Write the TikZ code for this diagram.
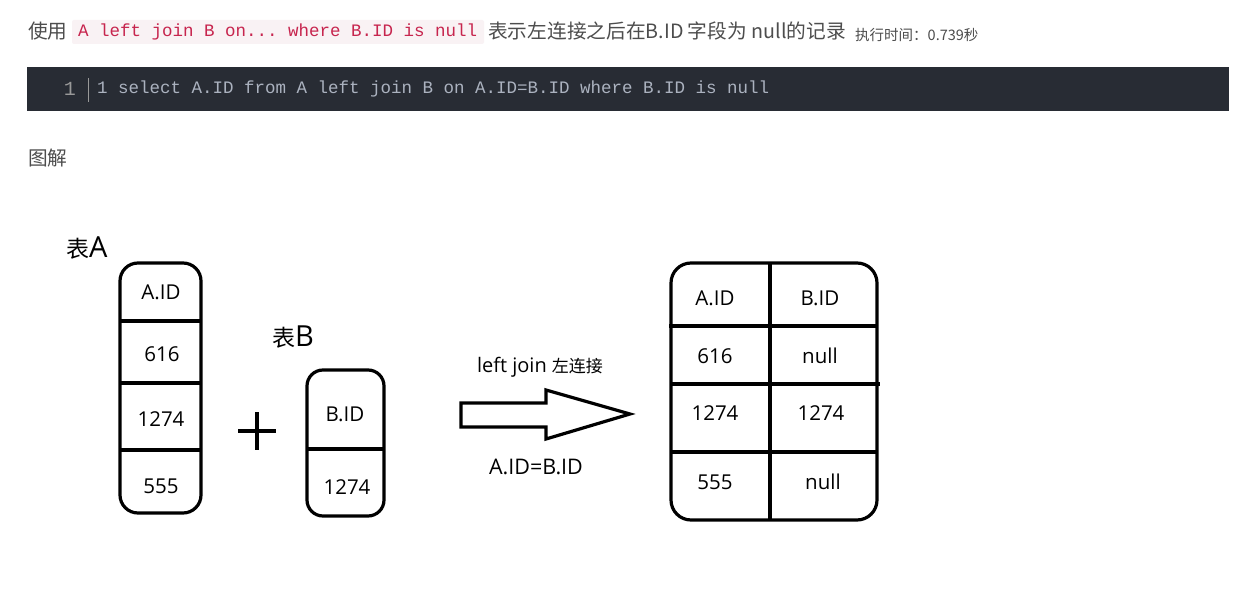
\documentclass[tikz,border=0pt]{standalone}
\usepackage{fontspec}
\setmainfont{Noto Sans CJK SC}
\newfontfamily\cjk{Noto Sans CJK SC}
\newfontfamily\hand{Open Sans}
\setmonofont{Liberation Mono}
\definecolor{hdr}{HTML}{4D4D4D}
\definecolor{codebg}{HTML}{F9F2F4}
\definecolor{codefg}{HTML}{C7254E}
\definecolor{blockbg}{HTML}{282C34}
\definecolor{blockfg}{HTML}{ABB2BF}
\definecolor{lnum}{HTML}{999999}
\begin{document}
\begin{tikzpicture}[x=1pt,y=-1pt,
  hdrtext/.style={inner sep=0pt,anchor=west,text=hdr,font=\cjk\fontsize{19.7}{22}\selectfont},
  tbl/.style={line width=3.2pt,draw=black},
  cell/.style={inner sep=0pt,font=\hand\fontsize{20.5}{23}\selectfont},
  title/.style={inner sep=0pt,anchor=west,font=\hand\fontsize{29}{32}\selectfont}]
\useasboundingbox (0,0) rectangle (1246,593);
\fill[white] (0,0) rectangle (1246,593);
% header line
\node[hdrtext] (use) at (28,31) {使用};
\fill[codebg, rounded corners=2pt] (72,20) rectangle (484,44);
\node[inner sep=0pt,anchor=west,text=codefg,font=\ttfamily\fontsize{17.5}{20}\selectfont] (inl) at (78,32) {A left join B on... where B.ID is null};
\node[hdrtext] (desc) at (488,31) {表示左连接之后在B.ID 字段为 null的记录};
\node[inner sep=0pt,anchor=west,text=hdr,font=\cjk\fontsize{14.5}{16}\selectfont] (time) at (855,35) {执行时间：0.739秒};
% code block
\fill[blockbg] (27,67) rectangle (1229,111);
\node[inner sep=0pt,anchor=east,text=lnum,font=\ttfamily\fontsize{20}{22}\selectfont] (ln) at (76,89) {1};
\draw[lnum,line width=0.8pt] (88,78) -- (88,102);
\node[inner sep=0pt,anchor=west,text=blockfg,font=\ttfamily\fontsize{17.5}{20}\selectfont] (sql) at (97,89) {1 select A.ID from A left join B on A.ID=B.ID where B.ID is null};
\node[hdrtext] (tujie) at (28,158) {图解};
% table A
\node[title] (ta) at (66,248) {{\cjk\fontsize{23}{25}\selectfont 表}A};
\draw[tbl,rounded corners=18pt] (120,263) rectangle (201,513);
\draw[tbl] (120,321) -- (201,321) (120,383) -- (201,383) (120,450) -- (201,450);
\node[cell] (a0) at (161,292) {A.ID};
\node[cell] (a1) at (162,354) {616};
\node[cell] (a2) at (161,419) {1274};
\node[cell] (a3) at (161,486) {555};
% plus
\draw[line width=3.2pt] (238,431) -- (276,431) (257,412) -- (257,450);
\coordinate (plus) at (257,431);
% table B
\node[title] (tb) at (272,337) {{\cjk\fontsize{23}{25}\selectfont 表}B};
\draw[tbl,rounded corners=16pt] (307,370) rectangle (384,516);
\draw[tbl] (307,449) -- (384,449);
\node[cell] (b0) at (345,414) {B.ID};
\node[cell] (b1) at (347,487) {1274};
% arrow
\draw[line width=3.2pt,line join=miter] (461,403) -- (546,403) -- (546,390) -- (630,414) -- (546,439) -- (546,427) -- (461,427) -- cycle;
\node[cell,font=\hand\fontsize{20}{22}\selectfont] (lj) at (540,367) {left join {\cjk\fontsize{17}{19}\selectfont 左连接}};
\node[cell,font=\hand\fontsize{21.5}{23}\selectfont] (on) at (536,467) {A.ID=B.ID};
% result table
\draw[tbl,rounded corners=20pt] (671,263) rectangle (877,520);
\draw[tbl] (770,263) -- (770,520);
\draw[tbl] (669,326) -- (877,326) (671,384) -- (880,384) (671,452) -- (877,452);
\node[cell] (r00) at (715,298) {A.ID};
\node[cell] (r01) at (820,298) {B.ID};
\node[cell] (r10) at (715,356) {616};
\node[cell] (r11) at (820,356) {null};
\node[cell] (r20) at (715,413) {1274};
\node[cell] (r21) at (821,413) {1274};
\node[cell] (r30) at (715,482) {555};
\node[cell] (r31) at (823,482) {null};
\end{tikzpicture}
\end{document}
